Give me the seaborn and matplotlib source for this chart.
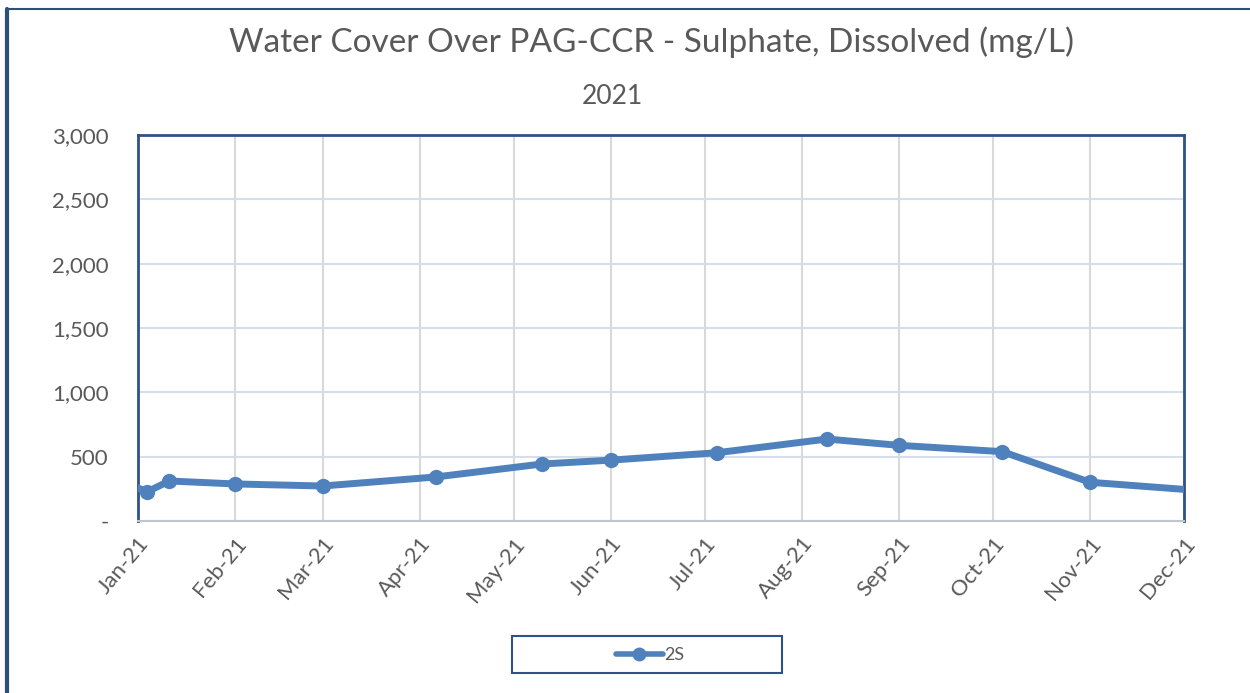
import pandas as pd
import seaborn as sns
import matplotlib.pyplot as plt
import matplotlib.dates as mdates
from matplotlib.lines import Line2D
from matplotlib.patches import Rectangle
from matplotlib.ticker import FuncFormatter

# sample dates and dissolved sulphate (mg/L) for station 2S
dates = ['2020-12-21', '2021-01-04', '2021-01-11', '2021-02-01', '2021-03-01',
         '2021-04-06', '2021-05-10', '2021-06-01', '2021-07-05', '2021-08-09',
         '2021-09-01', '2021-10-04', '2021-11-01', '2021-12-08']
sulphate = [360, 228, 311, 288, 272, 342, 443, 473, 531, 637, 588, 539, 301, 233]
station = '2S'

title = "Water Cover Over PAG-CCR - Sulphate, Dissolved (mg/L)"
subtitle = "2021"

data = pd.DataFrame({'Date': pd.to_datetime(dates), 'Sulphate': sulphate, 'Station': station})

sns.set_style('white')
plt.rcParams['font.family'] = ['Lato', 'DejaVu Sans']

blue = '#4F81BD'
dark = '#2F5284'
txt = '#595959'

fig = plt.figure(figsize=(12.5, 6.93), dpi=100)
ax = fig.add_axes([138 / 1250, 1 - 521 / 693, (1184 - 138) / 1250, (521 - 135) / 693])

sns.lineplot(data=data, x='Date', y='Sulphate', hue='Station', palette=[blue],
             marker='o', markersize=11, markeredgewidth=0, linewidth=5,
             ax=ax, legend=False, zorder=3)

ax.set_xlim(pd.Timestamp('2021-01-01'), pd.Timestamp('2021-12-01'))
ax.set_ylim(0, 3000)
ax.set_yticks(range(0, 3001, 500))
ax.yaxis.set_major_formatter(FuncFormatter(lambda v, p: '-' if v == 0 else f'{int(v):,}'))
ax.xaxis.set_major_locator(mdates.MonthLocator())
ax.xaxis.set_major_formatter(mdates.DateFormatter('%b-%y'))
ax.set_xlabel('')
ax.set_ylabel('')

ax.grid(axis='y', color='#D6DEEC', linewidth=1.5)
ax.grid(axis='x', color='#D9D9D9', linewidth=1.5)
ax.set_axisbelow(True)

for s in ['top', 'left', 'right']:
    ax.spines[s].set_color(dark)
    ax.spines[s].set_linewidth(2)
ax.spines['bottom'].set_color('#BFC5CF')
ax.spines['bottom'].set_linewidth(1.5)

ax.tick_params(axis='y', length=0, labelsize=16, labelcolor=txt, pad=21)
ax.tick_params(axis='x', length=5, width=1, color='#BFC5CF', labelsize=16,
               labelcolor=txt, pad=4)
for lab in ax.get_xticklabels():
    lab.set_rotation(50)
    lab.set_ha('right')
    lab.set_rotation_mode('anchor')

fig.text(0.5 * (232 + 1071) / 1250, 1 - 42 / 693, title, ha='center', va='center',
         fontsize=24, color=txt)
fig.text(612 / 1250, 1 - 97 / 693, subtitle, ha='center', va='center',
         fontsize=19, color=txt)

# legend box
fig.add_artist(Rectangle((512 / 1250, 1 - 673 / 693), 270 / 1250, 37 / 693,
                         transform=fig.transFigure, facecolor='white',
                         edgecolor=dark, linewidth=1.5))
handle = Line2D([], [], color=blue, linewidth=4, marker='o', markersize=10, markeredgewidth=0)
leg = fig.legend([handle], [station], loc='center', bbox_to_anchor=(650 / 1250, 1 - 655 / 693),
                 frameon=False, fontsize=13, handlelength=2.6, handletextpad=0.1,
                 labelcolor=txt)

# outer chart border (left and top)
fig.add_artist(Line2D([7 / 1250, 7 / 1250], [0, 1 - 9 / 693], color='#2E5078', linewidth=3,
                      transform=fig.transFigure))
fig.add_artist(Line2D([7 / 1250, 1], [1 - 9 / 693, 1 - 9 / 693], color='#2E5078', linewidth=1.5,
                      transform=fig.transFigure))

fig.savefig('out.png', dpi=100)
